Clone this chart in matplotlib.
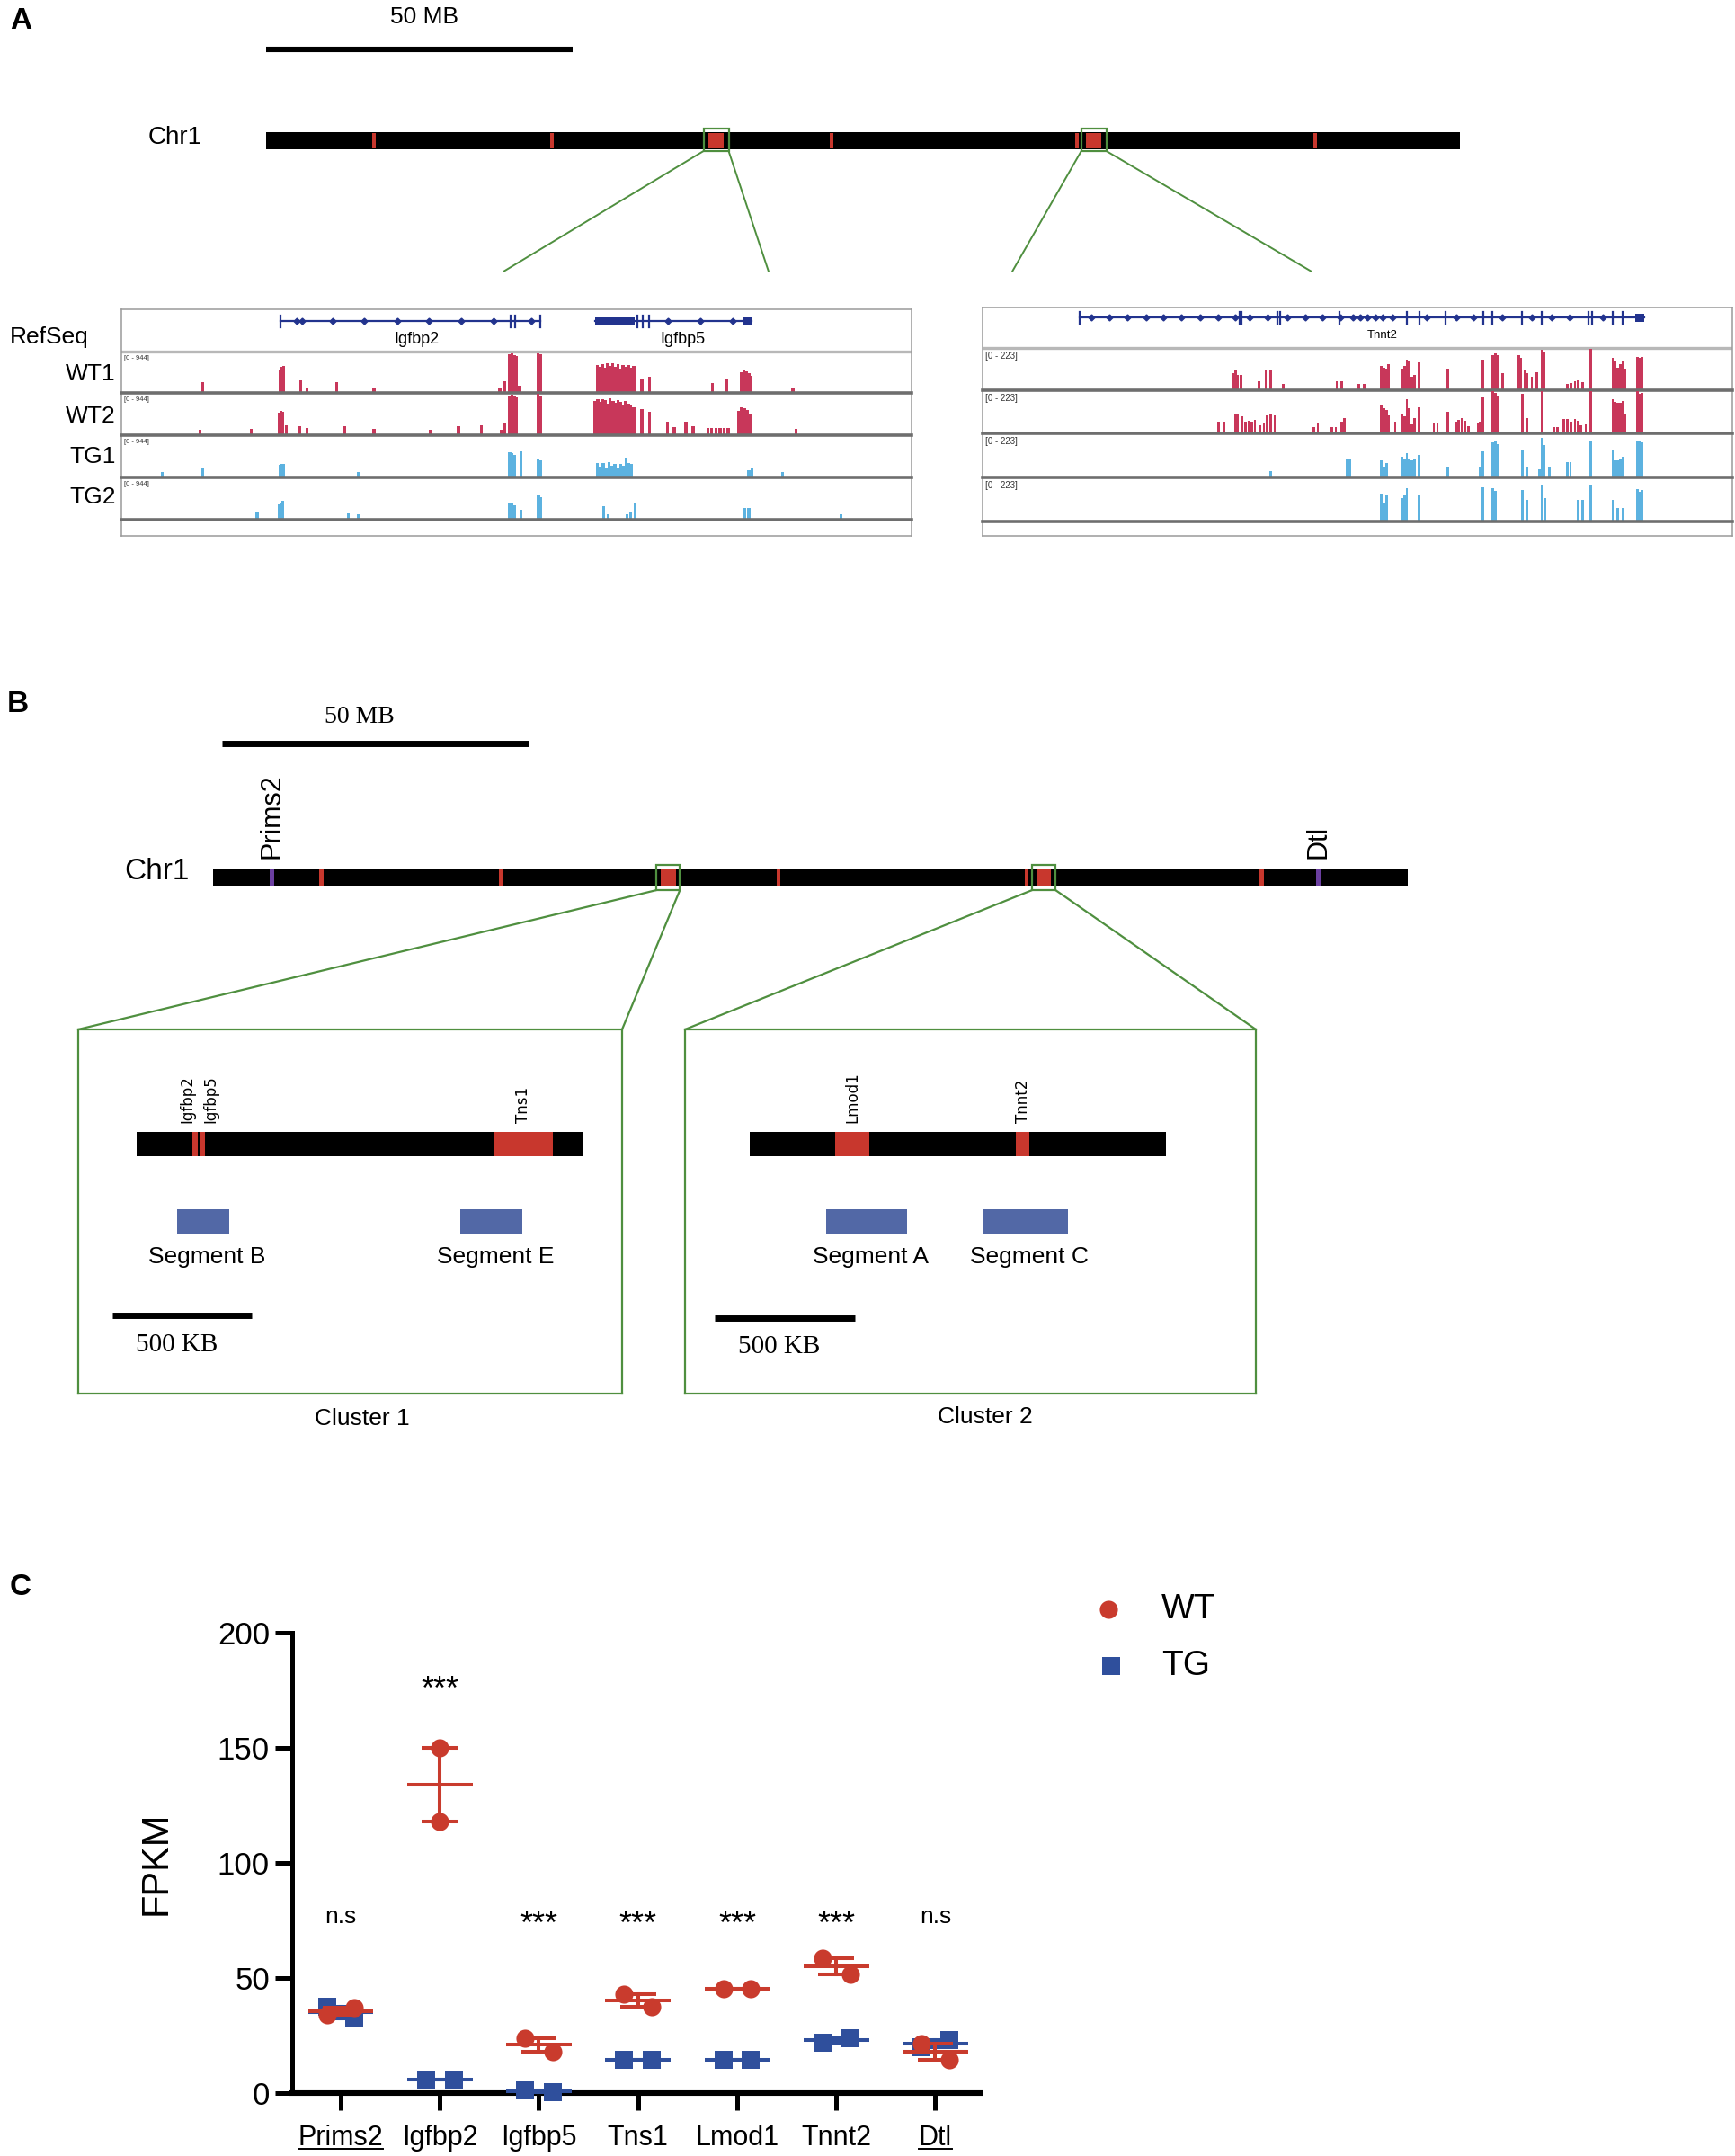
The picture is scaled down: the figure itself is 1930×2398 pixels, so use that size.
import matplotlib
matplotlib.use('Agg')
import matplotlib.pyplot as plt
from matplotlib.patches import Rectangle, ConnectionPatch
from matplotlib.lines import Line2D

plt.rcParams['font.family'] = ['Liberation Sans', 'DejaVu Sans']

# =================== DATA ===================
chr1_length_mb = 195.0
scale_mb = 50
# Panel A chromosome marks (Mb)
chrA_marks = [17.6, 46.7, 92.3, 132.5, 171.3]
chrA_clusters = [73.5, 135.2]
# Panel B chromosome marks (Mb)
chrB_marks = [17.7, 47.0, 92.3, 132.8, 171.2]
chrB_clusters = [74.3, 135.6]
chrB_ctrl_genes = ['Prims2', 'Dtl']
chrB_ctrl_pos = [9.6, 180.4]

# IGV tracks, left window (Igfbp2 / Igfbp5), (position kb, coverage)
L_range = 944
L_WT1 = [(34.5, 245), (47.7, 560), (48.0, 610), (48.3, 640), (51.2, 300), (52.3, 115),
         (57.4, 245), (63.7, 115), (85.1, 115), (86.0, 280), (86.8, 900), (87.2, 925),
         (87.6, 880), (87.9, 860), (88.5, 160), (91.6, 925), (92.0, 900),
         (101.7, 650), (102.2, 620), (102.6, 680), (103.0, 600), (103.5, 690), (103.9, 640),
         (104.3, 700), (104.8, 620), (105.2, 670), (105.6, 580), (106.1, 650), (106.5, 620),
         (107.0, 660), (107.4, 600), (107.9, 640), (108.2, 560),
         (109.3, 320), (110.6, 390), (121.3, 225), (123.8, 320), (126.3, 480), (126.7, 520),
         (127.1, 500), (127.5, 460), (127.9, 400), (135.0, 115)]
L_WT2 = [(34.1, 125), (42.8, 140), (47.6, 520), (47.9, 560), (48.2, 540), (48.8, 225),
         (51.0, 215), (52.3, 160), (58.7, 215), (63.7, 140), (73.3, 125), (78.1, 215),
         (82.0, 225), (85.3, 125), (86.0, 265), (86.8, 920), (87.2, 935), (87.6, 890),
         (87.9, 870), (91.6, 944), (92.0, 920),
         (101.3, 780), (101.8, 820), (102.2, 760), (102.6, 830), (103.1, 800), (103.5, 720),
         (103.9, 850), (104.4, 780), (104.8, 740), (105.2, 800), (105.7, 760), (106.1, 700),
         (106.5, 780), (107.0, 720), (107.4, 690), (107.9, 650),
         (109.3, 600), (110.6, 545), (113.7, 300), (114.8, 180), (116.8, 320), (118.0, 215),
         (120.5, 170), (121.2, 170), (121.9, 170), (122.6, 170), (123.3, 170), (124.0, 170),
         (125.8, 560), (126.3, 640), (126.8, 620), (127.3, 580), (127.8, 500), (135.5, 140)]
L_TG1 = [(27.7, 130), (34.5, 225), (47.7, 280), (48.0, 300), (48.3, 300), (61.0, 130),
         (86.8, 580), (87.2, 560), (87.6, 520), (88.7, 610), (91.6, 420), (92.0, 400),
         (101.7, 340), (102.2, 250), (102.7, 330), (103.2, 220), (103.7, 360), (104.2, 260),
         (104.7, 320), (105.2, 230), (105.7, 300), (106.2, 260), (106.6, 450), (107.1, 330),
         (107.5, 300), (127.5, 170), (128.0, 200), (133.2, 130)]
L_TG2 = [(43.8, 180), (47.6, 350), (47.9, 400), (48.2, 440), (59.3, 140), (61.0, 130),
         (86.8, 380), (87.2, 370), (87.6, 340), (88.7, 220), (91.7, 560), (92.0, 520),
         (102.8, 320), (103.6, 130), (106.8, 130), (107.4, 160), (108.1, 400),
         (126.8, 270), (127.5, 270), (143.2, 130)]
# gene models, left window
igfbp2_span = (47.8, 92.0)
igfbp2_exons = [47.8, 87.0, 87.7, 92.0]
igfbp2_arrows = [50.5, 51.5, 56.6, 62.0, 67.6, 73.1, 78.6, 84.0, 90.5]
igfbp5_span = (101.3, 128.0)
igfbp5_utr = [(101.3, 108.0), (126.5, 128.0)]
igfbp5_exons = [108.5, 109.5, 110.5]
igfbp5_arrows = [113.7, 119.3, 124.8]

# IGV tracks, right window (Tnnt2)
R_range = 223
R_WT1 = [(53.5, 94), (54.0, 114), (54.5, 83), (55.2, 83), (58.8, 51), (60.2, 107), (61.2, 107),
         (63.7, 33), (74.7, 51), (75.7, 51), (79.2, 33), (80.3, 33), (83.8, 134), (84.3, 123),
         (84.8, 116), (85.2, 140), (88.0, 116), (88.5, 134), (89.0, 167), (89.5, 160), (90.0, 74),
         (90.5, 83), (91.5, 152), (97.3, 116), (104.5, 167), (106.5, 192), (107.0, 198),
         (107.5, 190), (108.5, 91), (111.8, 192), (112.3, 178), (113.0, 111), (113.5, 91),
         (114.5, 74), (115.5, 100), (116.5, 219), (117.0, 207), (121.8, 33), (122.5, 38),
         (123.3, 51), (124.0, 56), (124.8, 45), (126.5, 223), (131.0, 178), (131.5, 160),
         (132.0, 123), (132.5, 140), (133.0, 154), (133.5, 116), (136.0, 183), (136.5, 178),
         (137.0, 183)]
R_WT2 = [(50.5, 62), (51.7, 62), (54.0, 107), (54.5, 100), (55.3, 89), (56.0, 62), (56.7, 67),
         (57.3, 62), (58.0, 71), (59.0, 45), (59.8, 54), (60.5, 98), (61.2, 107), (62.0, 98),
         (70.0, 33), (70.8, 51), (73.7, 33), (74.5, 33), (75.7, 62), (76.2, 80), (83.8, 149),
         (84.3, 134), (84.8, 123), (85.2, 98), (86.6, 62), (88.0, 107), (88.5, 89), (89.0, 183),
         (89.5, 134), (90.0, 47), (90.5, 80), (91.5, 140), (94.5, 51), (95.2, 51), (97.3, 116),
         (99.0, 62), (99.6, 74), (100.2, 80), (100.8, 67), (101.5, 38), (103.5, 56), (104.0, 62),
         (104.5, 192), (106.5, 223), (107.0, 216), (107.5, 200), (112.5, 212), (113.5, 80),
         (116.5, 223), (119.0, 33), (119.7, 33), (121.0, 76), (121.8, 76), (122.5, 62),
         (123.3, 76), (124.0, 67), (124.5, 45), (125.5, 47), (126.5, 223), (131.0, 183),
         (131.5, 167), (132.0, 163), (132.5, 163), (133.0, 174), (133.5, 105), (136.0, 223),
         (136.5, 212), (137.0, 216)]
R_TG1 = [(61.2, 33), (76.7, 94), (77.3, 94), (83.8, 87), (84.3, 56), (84.8, 74), (88.0, 107),
         (88.5, 94), (89.0, 125), (89.5, 100), (90.0, 89), (90.5, 100), (91.5, 116), (97.3, 56),
         (104.0, 56), (104.5, 134), (106.5, 183), (107.0, 190), (107.5, 174), (112.5, 143),
         (113.5, 56), (116.0, 40), (116.5, 205), (117.0, 167), (118.0, 56), (121.8, 78),
         (122.4, 78), (126.5, 194), (131.0, 143), (131.5, 91), (132.0, 91), (132.5, 100),
         (133.0, 107), (136.0, 194), (136.5, 190), (137.0, 183)]
R_TG2 = [(83.8, 145), (84.3, 100), (84.8, 138), (88.0, 120), (88.5, 134), (89.0, 174),
         (91.5, 138), (104.5, 178), (106.5, 172), (107.0, 161), (112.5, 163), (113.5, 111),
         (116.5, 192), (117.2, 123), (124.0, 111), (124.8, 111), (126.5, 192), (131.0, 111),
         (132.0, 71), (133.0, 71), (136.0, 167), (136.5, 156), (137.0, 163)]
tnnt2_span = (22.2, 137.5)
tnnt2_exons = [22.2, 54.8, 55.3, 62.5, 63.2, 75.2, 89.0, 91.5, 96.8, 104.5, 106.5, 112.5,
               116.5, 126.0, 126.8, 131.0, 133.0]
tnnt2_arrows = [24.5, 28.2, 32.0, 35.7, 39.3, 43.0, 46.7, 50.5, 54.0, 56.8, 60.5, 64.5, 68.2,
                71.8, 75.5, 78.0, 79.5, 81.0, 82.5, 84.0, 86.0, 93.0, 99.0, 102.5, 108.5,
                114.5, 118.5, 122.2, 129.0]
tnnt2_utr = [(135.5, 137.5)]

# Panel B clusters (kb)
scale_kb = 500
clu1_len = 1600
clu1_genes = ['Igfbp2', 'Igfbp5', 'Tns1']
clu1_gstart = [200, 229, 1281]
clu1_gend = [219, 245, 1494]
clu1_segs = ['Segment B', 'Segment E']
clu1_sstart = [145, 1161]
clu1_send = [332, 1384]
clu2_len = 1484
clu2_genes = ['Lmod1', 'Tnnt2']
clu2_gstart = [304, 949]
clu2_gend = [426, 997]
clu2_segs = ['Segment A', 'Segment C']
clu2_sstart = [272, 830]
clu2_send = [561, 1135]

# Panel C FPKM
genes = ['Prims2', 'Igfbp2', 'Igfbp5', 'Tns1', 'Lmod1', 'Tnnt2', 'Dtl']
underlined = ['Prims2', 'Dtl']
wt_fpkm = [[34, 37], [150, 118], [24, 18], [43, 37.5], [45.5, 45.5], [58.5, 51.5], [21.5, 14.5]]
tg_fpkm = [[37.5, 32.5], [6, 6], [1, 0.5], [14.5, 14.5], [14.5, 14.5], [22, 24], [20, 23]]
sig_labels = ['n.s', '***', '***', '***', '***', '***', 'n.s']
sig_y = [74, 171, 69, 69, 69, 69, 74]
series = ['WT', 'TG']

# =================== STYLE ===================
RED = '#c93b2d'
BLUE = '#2f4f9c'
CHR_RED = '#c8372d'
PURPLE = '#6b3fa0'
GREEN = '#4f8f3f'
SEG_BLUE = '#5268a6'
NAVY = '#22338e'
TRK_RED = '#c8375a'
TRK_BLUE = '#5cb2e0'

W, H = 1931, 2398
fig = plt.figure(figsize=(W / 100, H / 100), dpi=100)


def pax(x0, y0, x1, y1, zorder=1):
    ax = fig.add_axes([x0 / W, 1 - y1 / H, (x1 - x0) / W, (y1 - y0) / H], zorder=zorder)
    ax.patch.set_alpha(0)
    return ax


ov = pax(0, 0, W, H, zorder=0)
ov.set_xlim(0, W)
ov.set_ylim(H, 0)
ov.axis('off')


def T(x, y, s, **kw):
    kw.setdefault('ha', 'center')
    kw.setdefault('va', 'center')
    ov.text(x, y, s, **kw)


# =================== PANEL A ===================
T(23, 24, 'A', fontsize=24, fontweight='bold')
T(472, 19, '50 MB', fontsize=19)
T(225, 153, 'Chr1', fontsize=20, ha='right')

axA = pax(296, 30, 1624, 200, zorder=2)
axA.set_xlim(0, chr1_length_mb)
axA.set_ylim(200, 30)
axA.axis('off')
axA.plot([0, scale_mb], [55, 55], color='black', lw=4.4, solid_capstyle='butt')
axA.add_patch(Rectangle((0, 147), chr1_length_mb, 19, color='black', lw=0))
for m in chrA_marks:
    axA.add_patch(Rectangle((m - 0.3, 148), 0.6, 17, color=CHR_RED, lw=0))
for c in chrA_clusters:
    axA.add_patch(Rectangle((c - 1.25, 148), 2.5, 17, color=CHR_RED, lw=0))
    axA.add_patch(Rectangle((c - 2.05, 143), 4.1, 25, fill=False, edgecolor=GREEN, lw=1.6))
A_targets = [((560, 302), (855, 302)), ((1126, 302), (1459, 302))]
for c, (tl, tr) in zip(chrA_clusters, A_targets):
    for xa, tgt in ((c - 2.05, tl), (c + 2.05, tr)):
        con = ConnectionPatch(xyA=(xa, 168), coordsA=axA.transData, xyB=tgt,
                              coordsB=ov.transData, color=GREEN, lw=1.4)
        fig.add_artist(con)

# IGV-like boxes
T(99, 375, 'RefSeq', fontsize=19, ha='right')
for lab, y in zip(['WT1', 'WT2', 'TG1', 'TG2'], [416, 463, 508, 553]):
    T(129, y, lab, fontsize=19, ha='right')


def igv_box(x0, x1, top, sep, bases, bottom, xlim, tracks, colors, rng, rfs):
    fr = pax(x0, top, x1, bottom, zorder=1)
    fr.set_xlim(0, 1)
    fr.set_ylim(bottom, top)
    fr.set_xticks([])
    fr.set_yticks([])
    for sp in fr.spines.values():
        sp.set_color('#9a9a9a')
        sp.set_linewidth(1.1)
    fr.axhline(sep, color='#b8b8b8', lw=2.4)
    ref = pax(x0, top, x1, sep, zorder=2)
    ref.set_xlim(*xlim)
    ref.set_ylim(sep, top)
    ref.axis('off')
    prev = sep
    for pk, col, b in zip(tracks, colors, bases):
        ax = pax(x0, prev, x1, b, zorder=2)
        ax.bar([p for p, _ in pk], [v for _, v in pk], width=0.5, color=col, lw=0)
        ax.set_xlim(*xlim)
        ax.set_ylim(0, rng * 1.03)
        ax.axis('off')
        ax.axhline(0, color='#6e6e6e', lw=2.6, clip_on=False)
        ax.text(0.003, 0.92, f'[0 - {rng}]', transform=ax.transAxes, fontsize=rfs,
                va='top', ha='left', color='#333333')
        prev = b
    return ref


def gene_model(ax, span, exons, arrows, utrs, y, name, lx, ly, fs):
    ax.plot(span, [y, y], color=NAVY, lw=1.6)
    for e in exons:
        ax.plot([e, e], [y - 6.5, y + 6.5], color=NAVY, lw=1.6)
    ax.plot(arrows, [y] * len(arrows), 'D', color=NAVY, ms=3.5)
    for s, e in utrs:
        ax.add_patch(Rectangle((s, y - 4.5), e - s, 9, color=NAVY, lw=0))
    ax.text(lx, ly, name, fontsize=fs, ha='center', va='center')


refL = igv_box(135, 1014, 344, 391, [437, 484, 531, 578], 596, (20.7, 155.2),
               [L_WT1, L_WT2, L_TG1, L_TG2], [TRK_RED, TRK_RED, TRK_BLUE, TRK_BLUE], L_range, 5.5)
gene_model(refL, igfbp2_span, igfbp2_exons, igfbp2_arrows, [], 357, 'Igfbp2', 71.0, 377, 13)
gene_model(refL, igfbp5_span, igfbp5_exons, igfbp5_arrows, igfbp5_utr, 357, 'Igfbp5', 116.3, 377, 13)

refR = igv_box(1093, 1927, 342, 387, [434, 482, 531, 580], 596, (2.39, 155.4),
               [R_WT1, R_WT2, R_TG1, R_TG2], [TRK_RED, TRK_RED, TRK_BLUE, TRK_BLUE], R_range, 7)
gene_model(refR, tnnt2_span, tnnt2_exons, tnnt2_arrows, tnnt2_utr, 353, 'Tnnt2', 84.0, 373, 9.5)

# =================== PANEL B ===================
T(20, 784, 'B', fontsize=24, fontweight='bold')
T(400, 798, '50 MB', fontsize=20, family='Liberation Serif')
T(211, 970, 'Chr1', fontsize=24, ha='right')

axB = pax(237, 780, 1566, 1000, zorder=2)
axB.set_xlim(0, chr1_length_mb)
axB.set_ylim(1000, 780)
axB.axis('off')
axB.plot([1.5, 1.5 + scale_mb], [827, 827], color='black', lw=5, solid_capstyle='butt')
axB.add_patch(Rectangle((0, 966), chr1_length_mb, 20, color='black', lw=0))
for m in chrB_marks:
    axB.add_patch(Rectangle((m - 0.35, 967), 0.7, 18, color=CHR_RED, lw=0))
for g, p in zip(chrB_ctrl_genes, chrB_ctrl_pos):
    axB.add_patch(Rectangle((p - 0.35, 967), 0.7, 18, color=PURPLE, lw=0))
    axB.text(p, 955, g, rotation=90, ha='center', va='bottom', fontsize=22)
for c in chrB_clusters:
    axB.add_patch(Rectangle((c - 1.2, 967), 2.4, 18, color=CHR_RED, lw=0))
    axB.add_patch(Rectangle((c - 1.9, 962), 3.8, 28, fill=False, edgecolor=GREEN, lw=1.6))


def cluster(x0, x1, xl, blen, gs, ge, gn, gdx, ss, se, sn, sb0, sby, sbty):
    ax = pax(x0, 1145, x1, 1550, zorder=2)
    ax.set_xlim(*xl)
    ax.set_ylim(1550, 1145)
    ax.set_xticks([])
    ax.set_yticks([])
    for sp in ax.spines.values():
        sp.set_color(GREEN)
        sp.set_linewidth(1.6)
    ax.add_patch(Rectangle((0, 1259), blen, 27, color='black', lw=0))
    for s, e, n, dx in zip(gs, ge, gn, gdx):
        ax.add_patch(Rectangle((s, 1259), e - s, 27, color=CHR_RED, lw=0))
        ax.text((s + e) / 2 + dx, 1249, n, rotation=90, ha='center', va='bottom',
                fontsize=12, family='DejaVu Sans')
    for s, e, n in zip(ss, se, sn):
        ax.add_patch(Rectangle((s, 1345), e - s, 27, color=SEG_BLUE, lw=0))
        ax.text((s + e) / 2 + 15, 1398, n, ha='center', va='center', fontsize=19)
    ax.plot([sb0, sb0 + scale_kb], [sby, sby], color='black', lw=5, solid_capstyle='butt')
    ax.text(sb0 + scale_kb / 2 - 20, sbty, '500 KB', ha='center', va='center', fontsize=21,
            family='Liberation Serif')
    return ax


c1 = cluster(87, 692, (-210, 1742), clu1_len, clu1_gstart, clu1_gend, clu1_genes, [-28, 30, 0],
             clu1_sstart, clu1_send, clu1_segs, -87, 1463, 1496)
c2 = cluster(762, 1397, (-231, 1805), clu2_len, clu2_gstart, clu2_gend, clu2_genes, [0, 0],
             clu2_sstart, clu2_send, clu2_segs, -125, 1466, 1498)
for c, cax in zip(chrB_clusters, [c1, c2]):
    for xa, fx in ((c - 1.9, 0), (c + 1.9, 1)):
        con = ConnectionPatch(xyA=(xa, 990), coordsA=axB.transData, xyB=(fx, 1),
                              coordsB=cax.transAxes, color=GREEN, lw=1.6)
        fig.add_artist(con)
T(403, 1578, 'Cluster 1', fontsize=19)
T(1096, 1576, 'Cluster 2', fontsize=19)

# =================== PANEL C ===================
T(23, 1766, 'C', fontsize=24, fontweight='bold')
axC = pax(325, 1816, 1090, 2328, zorder=3)
axC.set_xlim(-0.49, 6.45)
axC.set_ylim(0, 200)
for s in ('top', 'right'):
    axC.spines[s].set_visible(False)
axC.spines['left'].set_linewidth(3.6)
axC.spines['bottom'].set_linewidth(4.4)
axC.spines['left'].set_bounds(0, 200)
axC.set_yticks([0, 50, 100, 150, 200])
axC.tick_params(axis='y', length=14, width=3.6, labelsize=25, pad=4)
axC.tick_params(axis='x', length=14, width=3.6, labelsize=22, pad=11)
xs = list(range(len(genes)))
axC.set_xticks(xs)
axC.set_xticklabels(genes)
axC.set_ylabel('FPKM', fontsize=30)
axC.yaxis.set_label_coords(-0.172, 0.5)


def group(vals_list, color, marker, ms, z):
    for i, vals in enumerate(vals_list):
        m = sum(vals) / len(vals)
        sem = abs(vals[0] - vals[1]) / 2
        off = [-0.14, 0.14] if abs(vals[0] - vals[1]) < 10 else [0, 0]
        axC.plot([i - 0.33, i + 0.33], [m, m], color=color, lw=2.9, solid_capstyle='butt',
                 zorder=z, clip_on=False)
        axC.plot([i, i], [m - sem, m + sem], color=color, lw=2.9, zorder=z, clip_on=False)
        for yy in (m - sem, m + sem):
            axC.plot([i - 0.18, i + 0.18], [yy, yy], color=color, lw=2.9,
                     solid_capstyle='butt', zorder=z, clip_on=False)
        axC.plot([i + o for o in off], vals, marker, color=color, ms=ms, zorder=z + 1,
                 clip_on=False, markeredgewidth=0)


group(tg_fpkm, BLUE, 's', 14, 4)
group(wt_fpkm, RED, 'o', 14.5, 6)
for i, (s, y) in enumerate(zip(sig_labels, sig_y)):
    axC.text(i, y, s, ha='center', va='baseline', fontsize=26 if s == '***' else 19)

# legend
ov.plot(1233, 1790, 'o', color=RED, ms=14.5, markeredgewidth=0)
ov.plot(1236, 1853, 's', color=BLUE, ms=14, markeredgewidth=0)
T(1292, 1790, series[0], fontsize=28, ha='left')
T(1292, 1853, series[1], fontsize=28, ha='left')

# underline control-gene tick labels
fig.canvas.draw()
inv = fig.transFigure.inverted()
for lbl in axC.get_xticklabels():
    if lbl.get_text() in underlined:
        bb = lbl.get_window_extent()
        (fx0, fy0), (fx1, _) = inv.transform([(bb.x0, bb.y0), (bb.x1, bb.y1)])
        fig.add_artist(Line2D([fx0, fx1], [fy0 + 0.0012, fy0 + 0.0012], color='black',
                              lw=1.4, transform=fig.transFigure))

fig.savefig('out.png', dpi=100)
